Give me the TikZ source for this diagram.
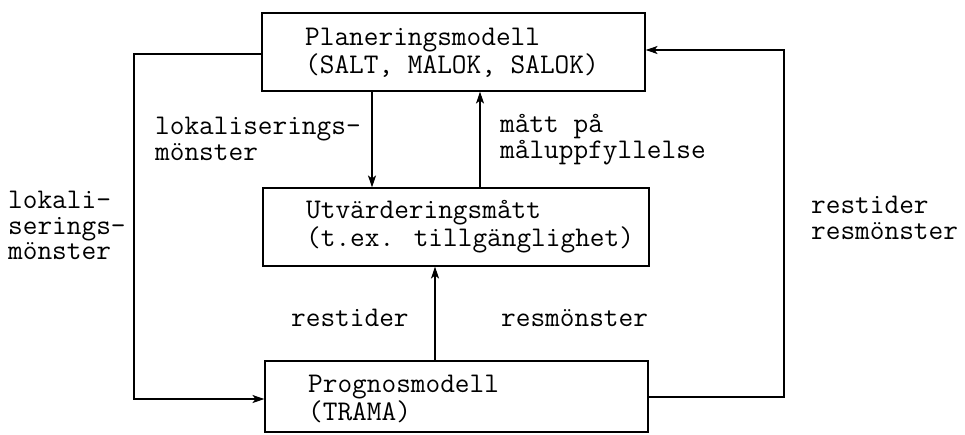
\documentclass[tikz,border=0pt]{standalone}
\usetikzlibrary{arrows.meta}
\begin{document}
\begin{tikzpicture}[x=1pt,y=-1pt,
  box/.style={draw, line width=1.1pt, inner sep=0pt, minimum width=#1},
  txt/.style={inner sep=0pt, align=left, anchor=north west, font=\ttfamily\fontsize{28.5}{24}\selectfont},
  ltxt/.style={inner sep=0pt, anchor=base west, font=\ttfamily\fontsize{28.5}{24}\selectfont},
  arr/.style={line width=1.1pt, -{Stealth[length=12pt,width=8pt,inset=3pt]}}]
\useasboundingbox[fill=white] (0,0) rectangle (965,434);
% boxes
\node[box=383pt, minimum height=78pt] (plan) at (453.5,52) {};
\node[box=386pt, minimum height=78pt] (eval) at (456,227) {};
\node[box=383pt, minimum height=71pt] (prog) at (456.5,396.5) {};
% box texts
\node[txt] (plant) at (305,28.2) {\strut Planeringsmodell\\\strut (SALT, MALOK, SALOK)};
\node[txt] (evalt) at (306,200.2) {\strut Utvärderingsmått\\\strut (t.ex. tillgänglighet)};
\node[txt] (progt) at (308,375.2) {\strut Prognosmodell\\\strut (TRAMA)};
% helper coordinates
\coordinate (xa) at (372,0);
\coordinate (xb) at (480,0);
\coordinate (xc) at (435,0);
\coordinate (Lx) at (134,0);
\coordinate (Rx) at (784,0);
\coordinate (pw) at ([yshift=-2pt]plan.west);
\coordinate (pe) at ([yshift=2pt]plan.east);
\coordinate (gw) at ([yshift=-2.5pt]prog.west);
\coordinate (ge) at ([yshift=-0.5pt]prog.east);
% connectors
\draw[arr] (plan.south -| xa) -- (eval.north -| xa);
\draw[arr] (eval.north -| xb) -- (plan.south -| xb);
\draw[arr] (prog.north -| xc) -- (eval.south -| xc);
\draw[arr] (pw) -- (pw -| Lx) -- (gw -| Lx) -- (gw);
\draw[arr] (ge) -- (ge -| Rx) -- (pe -| Rx) -- (pe);
% labels
\node[txt] (l1) at (155,117.2) {\strut lokaliserings-\\\strut mönster};
\node[txt] (l2) at (500,114.2) {\strut mått på\\\strut måluppfyllelse};
\node[txt] (l3) at (8,191.2) {\strut lokali-\\\strut serings-\\\strut mönster};
\node[txt] (l4) at (811,196.2) {\strut restider\\\strut resmönster};
\node[ltxt] (l5) at (291,326) {restider};
\node[ltxt] (l6) at (501,326) {resmönster};
\end{tikzpicture}
\end{document}
